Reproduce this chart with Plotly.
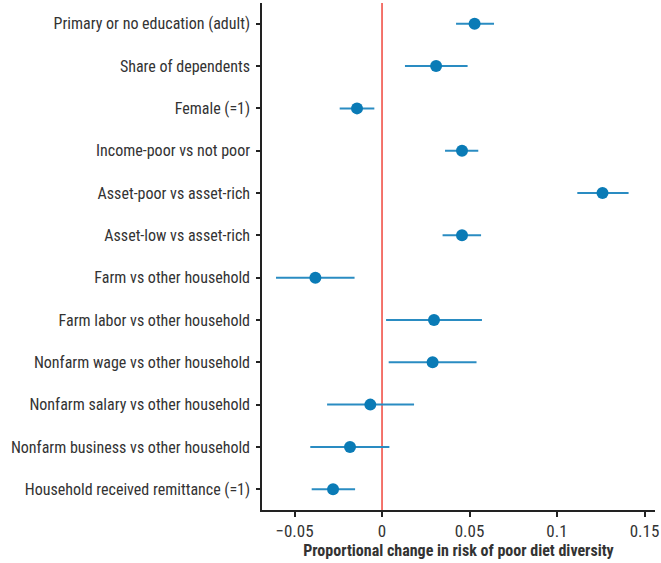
import plotly.graph_objects as go

categories = [
    "Primary or no education (adult)",
    "Share of dependents",
    "Female (=1)",
    "Income-poor vs not poor",
    "Asset-poor vs asset-rich",
    "Asset-low vs asset-rich",
    "Farm vs other household",
    "Farm labor vs other household",
    "Nonfarm wage vs other household",
    "Nonfarm salary vs other household",
    "Nonfarm business vs other household",
    "Household received remittance (=1)",
]
estimate = [0.0529, 0.0309, -0.0143, 0.0457, 0.1260, 0.0457, -0.0381, 0.0297, 0.0289, -0.0067, -0.0183, -0.0280]
ci_low = [0.0423, 0.0131, -0.0242, 0.0360, 0.1116, 0.0346, -0.0606, 0.0023, 0.0038, -0.0314, -0.0410, -0.0402]
ci_high = [0.0640, 0.0489, -0.0044, 0.0550, 0.1409, 0.0566, -0.0157, 0.0571, 0.0540, 0.0183, 0.0042, -0.0154]
x_ticks = [-0.05, 0, 0.05, 0.1, 0.15]
x_tick_text = ["\u22120.05", "0", "0.05", "0.1", "0.15"]

ypos = list(range(len(categories)))
blue = "#0a7bb6"

fig = go.Figure()
fig.add_trace(go.Scatter(
    x=estimate, y=ypos, mode="markers",
    marker=dict(color=blue, size=12),
    error_x=dict(type="data", symmetric=False,
                 array=[h - e for h, e in zip(ci_high, estimate)],
                 arrayminus=[e - l for e, l in zip(estimate, ci_low)],
                 color="#2a8cc2", thickness=2, width=0),
    showlegend=False,
))

fig.add_shape(type="line", x0=0, x1=0, xref="x", y0=0, y1=1, yref="paper",
              line=dict(color="#f0463c", width=1.5), layer="below")

font_family = "Liberation Sans Narrow, Roboto Condensed, Arial Narrow, Roboto, sans-serif"
fig.update_layout(
    width=661, height=563,
    margin=dict(l=262, r=6, t=3, b=53),
    plot_bgcolor="white", paper_bgcolor="white",
    font=dict(family=font_family, size=16, color="#333333"),
    xaxis=dict(range=[-0.0686, 0.156], tickvals=x_ticks, ticktext=x_tick_text,
               showgrid=False, zeroline=False, showline=True, linecolor="#222222", linewidth=1.5,
               ticks="outside", ticklen=5, tickcolor="#222222", tickwidth=1.5,
               tickfont=dict(size=17, color="#333333"),
               title=dict(text="<b>Proportional change in risk of poor diet diversity</b>",
                          font=dict(size=16, color="#333333"), standoff=4)),
    yaxis=dict(range=[11.49, -0.49], tickvals=ypos, ticktext=categories,
               showgrid=False, zeroline=False, showline=True, linecolor="#222222", linewidth=1.5,
               ticks="outside", ticklen=4, tickcolor="#222222", tickwidth=1.5,
               ticklabelstandoff=3,
               tickfont=dict(size=16, color="#333333")),
)

fig.write_html("out.html")
